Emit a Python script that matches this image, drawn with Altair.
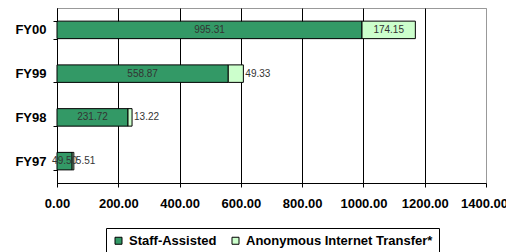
import altair as alt
import pandas as pd

years = ["FY00", "FY99", "FY98", "FY97"]
staff = [995.31, 558.87, 231.72, 49.50]
anon = [174.15, 49.33, 13.22, 5.51]
series = ["Staff-Assisted", "Anonymous Internet Transfer*"]
colors = ["#339966", "#CCFFCC"]
x_ticks = [0, 200, 400, 600, 800, 1000, 1200, 1400]

rows = []
for y, s, a in zip(years, staff, anon):
    rows.append({"year": y, "series": series[0], "ord": 0, "value": s})
    rows.append({"year": y, "series": series[1], "ord": 1, "value": a})
df = pd.DataFrame(rows)

base = alt.Chart(df).transform_stack(
    stack="value", groupby=["year"], as_=["x0", "x1"], sort=[alt.SortField("ord")]
).transform_calculate(
    mid="(datum.x0 + datum.x1) / 2",
    lab="format(datum.value, '.2f')",
)

yenc = alt.Y(
    "year:N",
    sort=years,
    title=None,
    scale=alt.Scale(paddingInner=0.6, paddingOuter=0.3),
    axis=alt.Axis(
        tickBand="extent",
        grid=False,
        domainColor="black",
        tickColor="black",
        tickSize=4,
        labelPadding=7,
        labelFont="Liberation Sans",
        labelFontSize=13,
        labelFontWeight="bold",
        labelColor="black",
    ),
)

xscale = alt.Scale(domain=[0, 1400], nice=False)

bars = base.mark_bar(stroke="black", strokeWidth=1).encode(
    x=alt.X(
        "x0:Q",
        scale=xscale,
        title=None,
        axis=alt.Axis(
            values=x_ticks,
            format=".2f",
            labelOverlap=False,
            labelFlush=False,
            labelBound=False,
            labelOffset={"condition": {"test": "datum.value === 1400", "value": -2}, "value": 0},
            grid=True,
            gridColor={"condition": {"test": "datum.value === 1400", "value": "#999999"}, "value": "black"},
            gridOpacity=1,
            domainColor="black",
            tickColor="black",
            tickSize=4,
            labelPadding=10,
            labelFont="Liberation Sans",
            labelFontSize=13,
            labelFontWeight="bold",
            labelColor="black",
        ),
    ),
    x2="x1:Q",
    y=yenc,
    color=alt.Color(
        "series:N",
        scale=alt.Scale(domain=series, range=colors),
        legend=alt.Legend(
            title=None,
            orient="none",
            legendX=49,
            legendY=220,
            direction="horizontal",
            symbolType="square",
            symbolSize=49,
            symbolStrokeColor="black",
            symbolStrokeWidth=1,
            symbolOpacity=1,
            labelFont="Liberation Sans",
            labelFontSize=13,
            labelFontWeight="bold",
            labelColor="black",
            labelLimit=400,
            labelOffset=4,
            columnPadding=12,
            padding=6,
            strokeColor="black",
            fillColor="white",
        ),
    ),
)

center_labels = base.transform_filter(
    "datum.ord == 0 || datum.value > 100"
).mark_text(
    align="center", baseline="middle", font="Liberation Sans", fontSize=10, color="#333333"
).encode(
    x=alt.X("mid:Q", scale=xscale),
    y=alt.Y("year:N", sort=years),
    text="lab:N",
)

side_labels = base.transform_filter(
    "datum.ord == 1 && datum.value <= 100"
).mark_text(
    align="left", baseline="middle", dx=2, font="Liberation Sans", fontSize=10, color="#333333"
).encode(
    x=alt.X("x1:Q", scale=xscale),
    y=alt.Y("year:N", sort=years),
    text="lab:N",
)

chart = alt.layer(bars, center_labels, side_labels).properties(
    width=429,
    height=175,
    autosize=alt.AutoSizeParams(type="none"),
    padding={"left": 49, "top": 0, "right": 20, "bottom": 80},
).configure_view(stroke="#999999", strokeWidth=1)

chart.save("out.html", embed_options={"renderer": "svg", "actions": False})
